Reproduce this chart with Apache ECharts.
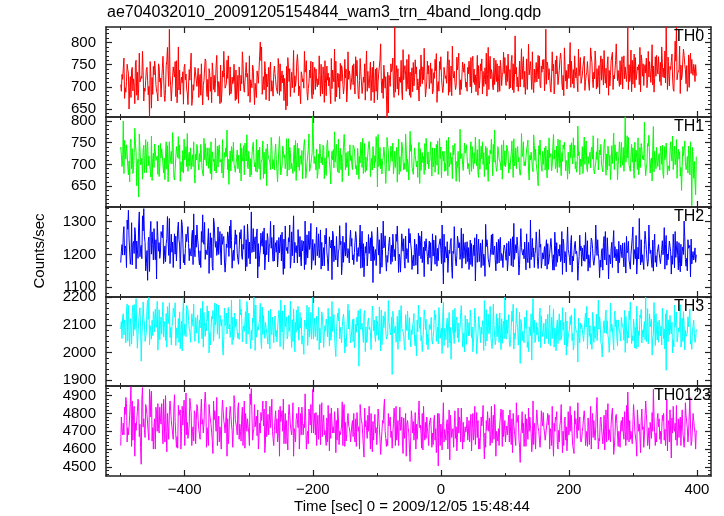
<!DOCTYPE html>
<html>
<head>
<meta charset="utf-8">
<script src="https://cdn.jsdelivr.net/npm/echarts@6/dist/echarts.min.js"></script>
<style>html,body{margin:0;padding:0;background:#fff;}#chart{width:724px;height:516px;}</style>
</head>
<body>
<div id="chart"></div>
<script>
// 1 s light curve (seconds from 2009/12/05 15:48:44), stored as four interleaved sample sets:
// A at -500,-496,...   C at -499,-495,...   B at -498,-494,...   D at -497,-493,...
const timeStart = -500;
const timeStep = 4;

const th0A = [
705,742,688,731,676,718,760,695,724,668,739,701,652,727,690,
746,713,681,758,830,697,722,664,738,709,751,686,715,672,744,
700,728,659,763,717,690,735,708,679,749,722,695,770,684,712,
738,663,726,701,755,689,717,742,676,709,790,693,729,668,714,
747,702,681,736,719,657,741,698,725,773,688,711,733,670,720,
756,694,718,679,745,707,731,662,722,758,699,713,684,740,717,
691,752,725,673,738,710,781,697,719,664,743,728,686,750,628,
714,739,835,695,722,671,748,706,733,689,761,718,701,745,677,
729,754,690,736,712,768,699,725,681,747,720,703,776,694,733,
711,758,686,740,724,697,763,716,679,745,731,705,752,690,727,
766,712,739,693,815,722,700,748,683,735,757,709,726,771,698,
740,830,716,688,751,729,704,762,680,737,719,758,697,743,725,
709,769,733,692,755,718,741,684,763,727,750,702,778,736,714,
759,695,745,835,722,706,766,738,689,752,731,780,710,747,724,
768,703,742,835,728,757,690,835,739,716,771,748,699,762,741
];
const th0C = [
690,765,712,650,738,703,681,776,719,697,744,630,721,758,685,
711,742,667,789,726,694,757,700,683,734,716,660,748,705,729,
742,681,703,758,670,722,694,747,712,665,780,707,728,690,751,
672,745,707,688,722,770,698,660,736,712,683,757,700,739,716,
730,685,752,709,693,766,678,724,701,746,662,718,741,696,758,
683,740,705,751,727,680,702,764,711,677,729,748,701,666,736,
722,699,760,714,685,752,690,728,744,706,671,762,718,697,733,
701,765,688,741,710,784,727,695,676,755,729,703,772,716,692,
748,708,732,775,690,721,744,708,761,680,735,767,700,727,752,
690,738,757,705,771,715,684,743,728,769,700,722,688,760,733,
715,774,698,752,729,690,741,768,712,796,725,687,755,718,747,
762,706,741,722,684,770,737,709,788,695,752,729,770,712,743,
726,692,757,740,716,781,699,752,730,708,768,725,694,759,737,
705,752,727,694,783,739,716,750,772,703,765,722,742,688,771,
736,790,720,758,702,774,745,716,792,727,751,690,763,735,712
];
const th0B = [
728,674,751,699,744,662,733,711,780,690,715,757,683,740,668,
720,769,694,736,703,745,678,790,712,661,729,704,776,692,730,
676,752,714,695,741,664,726,771,703,688,733,760,681,722,747,
693,718,779,684,730,665,749,708,724,801,687,735,712,756,679,
716,764,690,727,648,743,705,782,715,680,734,697,759,709,688,
731,713,770,702,665,747,721,696,785,709,673,739,762,690,726,
748,684,716,764,700,670,735,756,688,740,712,797,674,723,641,
752,697,728,681,760,716,690,773,724,702,745,668,734,787,711,
696,741,719,665,757,702,731,749,688,792,710,738,682,756,721,
744,700,769,727,681,752,735,706,789,718,693,760,712,741,778,
703,731,757,687,744,718,786,699,763,727,694,740,711,769,733,
691,756,725,779,702,738,761,693,748,722,800,707,734,689,766,
745,712,730,788,698,756,723,770,704,742,681,759,726,797,715,
733,770,712,750,689,774,728,705,760,741,698,757,795,719,743,
712,754,781,694,746,720,803,730,685,760,739,707,776,726,750
];
const th0D = [
717,698,739,723,691,754,670,708,737,715,682,729,746,705,752,
677,726,748,701,668,731,759,693,722,744,695,739,658,720,701,
716,695,740,678,731,754,688,715,662,736,697,719,745,707,669,
726,691,752,732,679,716,741,689,708,759,723,671,744,690,730,
698,741,719,669,746,712,733,687,756,702,727,780,689,738,673,
744,700,726,684,759,715,693,738,667,731,753,705,720,779,694,
705,768,680,735,722,743,707,669,758,690,731,715,749,681,726,
734,676,748,710,691,739,762,681,743,721,693,739,707,726,758,
715,684,762,704,739,687,719,780,712,733,694,756,716,744,699,
729,766,710,689,748,736,701,776,694,739,765,712,747,703,730,
748,695,771,722,700,758,717,735,694,742,779,710,738,703,761,
720,748,697,736,760,705,776,726,713,751,699,739,720,785,708,
759,727,706,770,733,695,748,715,782,698,737,762,718,750,701,
768,718,737,712,760,698,745,789,724,750,717,736,704,768,729,
755,722,709,767,739,695,758,728,749,785,707,772,730,751,725
];
const th1A = [
740,800,712,676,758,690,728,625,705,744,681,719,765,693,708,
672,736,714,689,752,701,664,727,745,683,710,771,696,722,657,
733,706,688,748,715,679,726,760,694,703,669,738,712,685,751,
699,721,662,743,708,730,676,715,757,690,705,728,651,719,741,
687,710,764,696,722,673,739,702,684,749,713,667,731,705,692,
812,709,680,725,744,691,716,655,734,703,758,688,711,727,674,
720,745,697,666,731,709,686,753,714,692,737,701,678,724,762,
693,707,730,659,718,741,689,712,776,698,721,670,736,704,687,
729,752,694,715,677,740,708,686,763,700,722,661,734,711,690,
745,706,684,727,697,758,713,672,738,701,719,779,693,710,666,
731,748,689,714,702,741,675,724,696,756,710,683,735,651,718,
700,742,688,725,769,697,713,674,736,709,691,750,716,682,729,
705,763,692,719,740,678,711,733,696,758,687,721,702,745,664,
727,698,810,715,684,738,706,761,693,720,674,742,709,787,690,
716,733,668,749,701,724,686,757,712,640,735,694,722,605,707
];
const th1C = [
722,679,745,708,690,727,651,770,714,681,735,702,663,747,719,
696,720,665,743,702,773,688,716,661,732,707,684,738,695,724,
702,746,673,715,691,752,706,680,737,712,692,718,654,741,700,
714,692,738,676,768,703,721,694,682,740,713,678,747,705,690,
728,660,717,742,690,710,726,679,755,694,720,707,668,735,701,
752,687,724,703,739,675,731,711,692,746,680,722,769,693,716,
699,736,676,718,693,748,704,732,687,720,648,739,709,693,742,
710,749,693,726,684,712,770,697,730,677,725,741,686,718,760,
690,720,707,746,699,669,730,755,694,716,738,707,660,725,749,
718,677,741,702,734,689,752,710,696,733,674,712,741,703,721,
694,727,710,670,738,706,690,752,716,684,728,768,702,743,697,
719,701,761,685,712,742,693,727,751,704,678,720,744,698,676,
741,700,683,728,712,694,760,722,683,710,742,665,735,718,701,
693,739,705,762,721,690,733,676,748,710,692,767,715,683,739,
725,700,741,714,685,708,742,668,729,697,754,718,676,739,660
];
const th1B = [
695,755,728,660,736,783,700,741,666,720,752,689,713,731,677,
748,699,725,660,718,739,692,764,706,680,741,716,689,752,710,
687,723,760,697,738,665,712,699,745,680,727,779,702,731,694,
733,680,715,749,696,671,740,704,728,665,754,697,722,688,711,
747,699,676,731,705,759,690,720,663,737,700,743,681,770,714,
702,735,690,717,667,742,706,730,775,696,724,660,738,701,745,
688,711,737,703,760,682,724,672,741,705,769,690,716,656,731,
742,678,720,758,701,687,733,664,745,709,694,751,712,677,740,
705,673,737,698,760,719,684,729,705,667,748,693,781,700,726,
690,732,711,763,679,716,700,742,661,724,746,698,732,687,755,
707,680,726,759,690,716,771,697,735,664,711,744,699,722,684,
738,669,715,698,733,681,756,707,722,666,745,701,690,788,712,
679,731,718,692,766,703,687,746,715,675,729,697,772,709,720,
751,684,723,699,746,668,713,690,735,797,703,716,662,730,708,
687,744,711,676,730,765,699,720,673,741,705,680,752,715,630
];
const th1D = [
708,736,695,750,679,744,712,699,733,757,697,671,726,709,744,
715,680,752,705,730,670,741,713,689,758,695,728,710,677,746,
725,690,711,738,700,729,685,742,705,757,716,688,731,707,682,
690,748,707,725,690,713,751,684,733,703,668,736,715,762,698,
712,737,689,716,759,687,703,744,716,686,732,757,704,684,727,
718,668,747,699,715,756,688,710,705,683,737,714,687,730,709,
744,690,713,751,679,717,745,701,722,764,695,712,740,700,685,
722,698,739,677,751,703,683,720,694,738,708,656,727,748,701,
711,738,682,754,713,730,702,674,727,744,697,730,713,686,735,
702,752,690,715,670,742,727,688,720,758,705,684,713,745,697,
744,703,754,697,725,683,718,706,743,721,692,709,675,756,730,
687,733,716,741,690,758,702,745,685,728,715,761,706,720,695,
718,754,702,735,686,729,715,700,749,724,696,743,688,729,752,
710,722,766,690,705,751,688,739,712,701,748,680,735,712,695,
742,679,723,697,752,688,714,735,693,720,688,742,705,668,718
];
const th2A = [
1175,1262,1218,1335,1190,1240,1156,1290,1228,1340,1172,1253,1201,1279,1125,
1236,1270,1195,1248,1310,1207,1263,1181,1229,1292,1168,1245,1218,1274,1193,
1250,1211,1321,1185,1238,1266,1152,1222,1284,1204,1247,1176,1258,1305,1213,
1231,1170,1276,1216,1245,1188,1330,1208,1259,1163,1234,1281,1199,1226,1252,
1180,1243,1205,1268,1157,1222,1290,1196,1237,1174,1255,1211,1302,1189,1228,
1246,1167,1214,1275,1198,1232,1150,1220,1261,1183,1208,1240,1176,1297,1203,
1225,1169,1251,1194,1216,1132,1238,1203,1270,1182,1210,1245,1161,1229,1197,
1253,1178,1215,1287,1190,1232,1158,1206,1264,1185,1221,1140,1243,1199,1212,
1170,1236,1195,1258,1181,1215,1110,1227,1189,1249,1203,1165,1220,1280,1188,
1207,1154,1233,1196,1262,1178,1214,1189,1245,1161,1200,1226,1172,1238,1195,
1219,1150,1208,1254,1183,1227,1166,1198,1240,1175,1305,1192,1213,1157,1231,
1186,1221,1170,1249,1199,1163,1216,1185,1232,1147,1204,1258,1179,1210,1193,
1164,1228,1186,1205,1243,1172,1197,1129,1218,1183,1251,1190,1160,1224,1201,
1176,1235,1194,1212,1155,1284,1187,1222,1168,1203,1246,1179,1213,1149,1196,
1230,1173,1209,1258,1184,1140,1219,1191,1236,1165,1302,1188,1214,1171,1197
];
const th2C = [
1210,1285,1160,1248,1297,1203,1241,1330,1187,1256,1212,1148,1269,1226,1301,
1188,1251,1226,1316,1172,1238,1201,1277,1156,1247,1218,1285,1204,1169,1259,
1229,1160,1246,1214,1279,1190,1311,1240,1200,1168,1255,1232,1194,1242,1181,
1260,1214,1195,1288,1163,1238,1206,1242,1278,1196,1225,1153,1264,1234,1210,
1221,1162,1233,1196,1287,1203,1158,1249,1214,1276,1191,1232,1169,1226,1295,
1182,1229,1263,1155,1221,1280,1195,1244,1178,1255,1217,1138,1237,1209,1174,
1249,1206,1178,1236,1271,1193,1165,1227,1248,1202,1283,1141,1215,1257,1176,
1205,1262,1181,1228,1146,1210,1256,1175,1232,1198,1167,1265,1187,1222,1248,
1215,1150,1244,1198,1227,1172,1262,1189,1213,1160,1285,1196,1236,1158,1220,
1239,1190,1163,1251,1176,1206,1245,1133,1227,1190,1263,1184,1213,1252,1160,
1200,1176,1248,1162,1230,1196,1279,1215,1153,1237,1184,1220,1269,1194,1158,
1207,1245,1183,1220,1152,1236,1195,1270,1174,1226,1190,1146,1231,1193,1259,
1220,1179,1242,1160,1219,1203,1245,1183,1152,1270,1207,1171,1235,1195,1143,
1229,1191,1143,1240,1201,1169,1258,1186,1245,1154,1215,1290,1180,1227,1163,
1204,1215,1282,1167,1241,1196,1159,1240,1173,1210,1253,1150,1228,1192,1220
];
const th2B = [
1230,1198,1305,1246,1168,1282,1215,1193,1318,1237,1121,1267,1230,1184,1255,
1205,1290,1178,1241,1220,1160,1256,1299,1214,1175,1262,1233,1195,1324,1222,
1188,1270,1231,1209,1142,1251,1296,1197,1235,1263,1180,1221,1287,1158,1242,
1202,1267,1185,1240,1293,1171,1225,1254,1128,1213,1270,1190,1248,1301,1179,
1236,1197,1260,1139,1223,1251,1182,1318,1205,1229,1165,1241,1198,1271,1154,
1219,1283,1190,1237,1165,1208,1254,1123,1226,1202,1288,1173,1231,1190,1247,
1183,1238,1206,1290,1160,1224,1195,1251,1114,1215,1237,1178,1302,1188,1209,
1170,1229,1262,1145,1201,1248,1187,1279,1213,1165,1231,1196,1271,1132,1218,
1241,1182,1207,1164,1230,1290,1176,1239,1203,1127,1218,1256,1185,1210,1237,
1178,1244,1196,1119,1212,1235,1166,1292,1186,1222,1199,1150,1246,1181,1213,
1182,1240,1166,1295,1205,1137,1221,1187,1263,1198,1211,1160,1232,1276,1178,
1224,1155,1203,1188,1268,1176,1230,1139,1209,1284,1168,1195,1240,1121,1212,
1195,1267,1149,1212,1182,1290,1203,1161,1236,1194,1125,1217,1273,1180,1240,
1210,1162,1255,1183,1226,1199,1140,1310,1176,1230,1187,1225,1160,1262,1205,
1188,1242,1155,1201,1225,1170,1270,1196,1147,1223,1185,1245,1131,1209,1176
];
const th2D = [
1198,1226,1277,1170,1232,1263,1188,1219,1272,1150,1240,1301,1183,1245,1210,
1270,1172,1233,1197,1262,1218,1180,1245,1306,1200,1239,1181,1256,1214,1290,
1168,1237,1298,1199,1227,1163,1249,1210,1270,1231,1146,1269,1219,1201,1275,
1185,1248,1231,1150,1252,1210,1279,1187,1233,1265,1201,1243,1177,1219,1290,
1207,1252,1180,1247,1212,1238,1269,1174,1227,1193,1243,1154,1260,1215,1186,
1233,1196,1218,1165,1259,1187,1227,1271,1199,1162,1230,1256,1195,1218,1274,
1199,1270,1221,1158,1233,1204,1261,1180,1224,1166,1198,1265,1220,1149,1236,
1228,1193,1240,1201,1263,1179,1218,1235,1154,1247,1211,1257,1175,1240,1194,
1190,1263,1170,1219,1248,1202,1224,1145,1237,1210,1178,1241,1202,1263,1172,
1221,1169,1228,1205,1247,1160,1201,1224,1175,1260,1211,1237,1174,1203,1229,
1234,1196,1215,1185,1253,1170,1207,1238,1190,1158,1249,1202,1179,1222,1205,
1165,1233,1209,1152,1227,1200,1178,1247,1191,1215,1237,1180,1202,1166,1226,
1181,1214,1199,1250,1167,1228,1183,1211,1255,1168,1199,1237,1190,1216,1175,
1190,1236,1205,1168,1252,1215,1183,1221,1199,1271,1164,1203,1244,1176,1217,
1172,1199,1230,1184,1208,1262,1191,1153,1231,1200,1164,1219,1247,1183,1199
];
const th3A = [
2085,2140,2035,2170,2098,2060,2195,2110,1968,2125,2072,2200,2048,2133,2091,
2155,2066,2112,2019,2180,2094,2128,2052,2147,2005,2103,2168,2077,2118,2040,
2136,2089,2186,2058,2114,2027,2152,2099,2071,2130,1990,2108,2163,2082,2045,
2121,2070,2157,2096,2031,2142,2080,2200,2055,2106,2013,2127,2088,2149,2064,
2100,2038,2135,2074,2172,2049,2093,2118,2002,2081,2145,2060,2110,2025,2087,
2200,2057,2103,2034,2126,2079,2160,2044,2097,1985,2114,2068,2139,2020,2085,
2051,2122,2073,1950,2098,2140,2036,2084,2012,2117,2062,2165,2028,2091,2047,
2105,1920,2069,2131,2040,2088,2008,2150,2056,2097,2023,2075,2128,2044,2083,
2010,2092,2058,2137,2031,2074,2181,2046,2099,1975,2063,2115,2037,2170,2071,
2029,2108,2052,2086,1995,2124,2066,2188,2041,2080,2014,2101,2057,2143,2033,
2200,2068,2021,2113,2049,2090,1960,2076,2134,2038,2061,2195,2045,2092,2017,
2079,2121,2032,2063,2158,2006,2088,2047,2110,1990,2072,2136,2026,2083,2054,
2101,2035,2167,2058,2011,2094,2043,2129,1983,2070,2115,2039,2085,2150,2024,
2066,2109,2000,2077,2183,2042,2090,2019,2125,2056,2200,2031,2088,2064,2140,
2037,2095,2050,1935,2118,2067,2021,2147,2074,2033,2102,2058,2126,2011,2069
];
const th3C = [
2112,2063,2148,2091,2030,2174,2088,2139,2057,2103,2162,2028,2117,2075,2185,
2046,2127,2090,2166,2054,2109,2180,2073,2013,2134,2098,2154,2037,2095,2127,
2072,2160,2019,2105,2150,2082,2041,2115,2172,2096,2057,2143,2085,2190,2060,
2102,2047,2123,2076,2185,2097,2044,2139,2070,2118,2165,2051,2099,2013,2128,
2132,2080,2021,2151,2093,2059,2186,2040,2110,2167,2088,2035,2124,2072,2145,
2048,2102,2163,2083,2018,2121,2089,2055,2137,2076,2160,2035,2103,2071,2154,
2086,2017,2128,2063,2106,2152,2044,2092,2168,2057,2113,2082,2030,2148,2065,
2072,2149,2096,2011,2124,2075,2137,2090,2020,2112,2063,2171,2042,2089,2120,
2054,2127,2079,2040,2163,2088,2025,2103,2145,2064,2032,2128,2075,2101,2002,
2121,2061,2092,2160,2038,2081,2115,2049,2093,2167,2053,2028,2125,2071,2094,
2066,2101,2047,2175,2085,2026,2119,2060,2087,2003,2140,2072,2108,2039,2133,
2106,2050,2088,2127,2019,2098,2140,2061,2027,2114,2083,2043,2159,2070,2035,
2083,2119,2012,2097,2145,2051,2077,2105,2040,2131,2062,2178,2048,2093,2118,
2041,2086,2130,2052,2097,2121,2013,2078,2156,2089,2039,2066,2121,2181,2074,
2117,2027,2085,2154,2063,2110,2172,2038,2093,2124,2009,2070,2157,2080,2036
];
const th3B = [
2050,2118,2176,2022,2147,2083,2015,2162,2106,2040,2189,2097,2061,2157,2008,
2102,2182,2043,2135,2090,2160,2025,2123,2079,2198,2057,2116,2084,2175,2069,
2033,2111,2145,2078,1998,2131,2087,2176,2050,2119,2161,2067,2103,2028,2143,
2074,2193,2038,2112,2161,2053,2125,2007,2094,2178,2065,2109,2030,2156,2092,
2058,2121,2190,2011,2099,2134,2067,2158,2073,2044,2126,1993,2085,2164,2048,
2092,2131,2010,2147,2070,2101,2023,2185,2065,2118,2049,2093,1998,2124,2076,
2119,2040,2096,2158,2069,2003,2112,2071,2145,2039,2090,2005,2133,2077,2188,
2063,2118,2037,2095,2170,2059,2104,2046,2082,2141,1988,2109,2061,2154,2028,
2101,2045,2153,2068,2118,1996,2087,2124,2034,2079,2160,2052,2091,2019,2134,
2087,2154,2002,2121,2067,2035,2097,2023,2139,2062,2175,2046,2085,2010,2113,
2048,2137,2090,2012,2160,2071,2104,2035,2152,2093,1972,2117,2063,2140,2082,
2031,2097,2171,2050,2089,2118,2043,2162,2075,2022,2130,2068,2098,1965,2107,
2060,2143,2082,2029,2122,2066,2190,2035,2099,2154,2046,2076,2009,2118,2091,
2127,2044,2085,2150,2032,2098,2168,2061,2034,2112,2073,2140,1990,2104,2045,
2098,2160,2012,2079,2134,1998,2091,2055,2173,2040,2081,2129,2030,2095,2050
];
const th3D = [
2130,2090,2041,2122,2171,2108,2062,2095,2183,2036,2120,2079,2148,2100,2063,
2128,2056,2141,2105,2027,2150,2089,2036,2113,2061,2170,2086,2140,2050,2106,
2118,2049,2093,2169,2073,2121,2179,2066,2135,2024,2097,2116,2054,2127,2091,
2051,2136,2087,2148,2066,2013,2109,2172,2081,2043,2134,2092,2151,2077,2035,
2080,2152,2106,2058,2129,2076,2018,2096,2154,2082,2030,2117,2171,2056,2101,
2125,2043,2089,2133,2097,2056,2130,2076,2014,2143,2091,2123,2050,2175,2034,
2039,2102,2152,2084,2036,2093,2125,2010,2078,2131,2044,2154,2089,2048,2112,
2129,2070,2048,2154,2086,2022,2079,2126,2065,2039,2117,2087,2003,2131,2067,
2082,2030,2118,2092,2051,2136,2069,2017,2090,2154,2073,2107,2144,2049,2085,
2060,2125,2037,2073,2130,2092,2007,2155,2068,2032,2101,2140,2036,2122,2050,
2118,2037,2150,2069,2105,2145,2042,2128,2018,2080,2115,2036,2091,2161,2058,
2056,2138,2024,2110,2072,2032,2116,2082,2146,2056,2101,2009,2080,2124,2087,
2040,2092,2125,2068,2036,2139,2084,2027,2115,2068,2000,2103,2137,2051,2079,
2103,2152,2033,2119,2060,2016,2102,2135,2080,2046,2159,2093,2052,2025,2111,
2060,2108,2140,2039,2080,2046,2113,2089,2019,2148,2058,2093,2044,2117,2084
];
const th0123A = [
4620,4745,4890,4680,4950,4790,4705,4860,4515,4770,4830,4650,4925,4735,4800,
4690,4855,4760,4585,4810,4725,4905,4670,4780,4840,4620,4750,4885,4700,4795,
4830,4655,4765,4920,4710,4790,4575,4820,4740,4690,4870,4755,4630,4800,4720,
4775,4860,4645,4735,4805,4690,4940,4715,4785,4600,4760,4825,4670,4745,4880,
4705,4770,4560,4815,4730,4665,4850,4745,4690,4795,4610,4760,4910,4700,4735,
4935,4680,4790,4625,4750,4705,4845,4660,4725,4580,4775,4700,4820,4645,4735,
4690,4800,4615,4725,4760,4555,4705,4840,4670,4740,4625,4785,4700,4880,4655,
4720,4605,4770,4690,4835,4640,4710,4760,4530,4690,4805,4665,4735,4595,4750,
4680,4775,4625,4715,4505,4740,4860,4650,4705,4780,4610,4725,4690,4830,4640,
4715,4760,4590,4695,4805,4660,4730,4545,4705,4775,4635,4850,4690,4735,4615,
4760,4680,4820,4580,4710,4745,4525,4690,4795,4655,4730,4870,4600,4720,4685,
4805,4640,4735,4690,4560,4765,4705,4850,4620,4725,4680,4790,4575,4710,4745,
4660,4815,4700,4625,4740,4690,4890,4645,4720,4595,4765,4705,4830,4670,4735,
4610,4780,4700,4920,4655,4740,4690,4815,4580,4725,4870,4660,4745,4935,4690,
4725,4630,4800,4695,4760,4550,4715,4845,4665,4740,4610,4785,4700,4645,4720
];
const th0123C = [
4780,4680,4855,4725,4615,4840,4760,4670,4880,4710,4795,4935,4645,4770,4700,
4835,4715,4640,4800,4870,4690,4755,4605,4820,4735,4780,4660,4845,4725,4630,
4760,4805,4690,4845,4620,4740,4870,4700,4785,4600,4760,4835,4680,4740,4900,
4720,4655,4780,4870,4700,4620,4790,4850,4675,4745,4810,4580,4730,4840,4700,
4770,4640,4840,4700,4800,4595,4735,4860,4640,4720,4800,4680,4760,4630,4850,
4690,4805,4655,4740,4790,4620,4720,4830,4690,4760,4625,4735,4850,4680,4720,
4735,4670,4805,4600,4740,4830,4660,4715,4585,4795,4710,4655,4760,4700,4620,
4780,4690,4620,4760,4705,4575,4800,4720,4670,4755,4600,4790,4690,4840,4660,
4620,4710,4760,4580,4800,4690,4640,4745,4820,4665,4735,4590,4780,4705,4650,
4780,4640,4715,4840,4665,4600,4770,4690,4810,4620,4720,4765,4645,4730,4820,
4640,4735,4690,4800,4620,4790,4680,4745,4615,4830,4690,4625,4760,4700,4815,
4720,4660,4790,4620,4745,4810,4640,4705,4760,4590,4730,4690,4815,4660,4780,
4700,4760,4615,4735,4800,4650,4710,4765,4630,4700,4855,4640,4720,4780,4615,
4740,4690,4620,4780,4700,4850,4640,4700,4760,4610,4800,4720,4660,4780,4640,
4770,4705,4650,4880,4640,4775,4700,4620,4735,4820,4675,4720,4890,4650,4690
];
const th0123B = [
4700,4835,4640,4790,4870,4560,4810,4740,4945,4665,4790,4880,4720,4600,4855,
4770,4630,4900,4725,4820,4655,4765,4845,4600,4730,4915,4690,4805,4645,4760,
4710,4880,4740,4610,4850,4695,4765,4890,4640,4810,4735,4560,4790,4705,4855,
4680,4740,4835,4605,4770,4910,4650,4725,4820,4690,4870,4625,4795,4720,4660,
4815,4685,4755,4880,4630,4790,4705,4560,4765,4835,4680,4740,4600,4825,4690,
4750,4620,4725,4860,4680,4775,4590,4740,4810,4650,4700,4865,4615,4760,4695,
4760,4640,4735,4850,4680,4725,4790,4600,4755,4690,4825,4570,4745,4660,4800,
4665,4745,4840,4620,4720,4775,4560,4690,4815,4650,4740,4870,4605,4700,4780,
4735,4610,4790,4670,4745,4595,4710,4765,4540,4700,4815,4665,4760,4600,4725,
4650,4730,4800,4625,4760,4690,4845,4610,4740,4680,4790,4560,4715,4825,4670,
4700,4790,4625,4735,4860,4660,4720,4615,4770,4700,4585,4745,4820,4650,4760,
4690,4755,4600,4840,4700,4625,4735,4580,4780,4665,4840,4620,4740,4860,4655,
4730,4620,4775,4840,4665,4725,4600,4780,4690,4820,4650,4740,4570,4795,4700,
4760,4655,4845,4640,4705,4790,4560,4740,4825,4675,4730,4600,4805,4690,4770,
4655,4790,4710,4590,4820,4690,4745,4610,4780,4700,4860,4640,4735,4800,4600
];
const th0123D = [
4680,4795,4720,4865,4650,4745,4880,4610,4725,4850,4690,4780,4600,4835,4715,
4740,4880,4700,4655,4760,4830,4610,4790,4700,4875,4680,4740,4620,4815,4850,
4680,4740,4860,4720,4795,4650,4815,4620,4725,4875,4690,4770,4840,4610,4765,
4830,4700,4620,4800,4725,4850,4690,4760,4600,4805,4730,4870,4680,4775,4620,
4690,4820,4745,4630,4760,4850,4680,4715,4800,4600,4835,4720,4670,4790,4700,
4800,4735,4850,4670,4705,4640,4800,4690,4760,4830,4680,4620,4750,4800,4640,
4670,4770,4700,4790,4615,4760,4700,4800,4650,4720,4780,4640,4830,4615,4730,
4700,4830,4650,4725,4780,4660,4740,4600,4770,4700,4655,4720,4800,4650,4720,
4760,4690,4650,4800,4620,4755,4700,4600,4790,4715,4660,4830,4640,4750,4695,
4690,4795,4650,4720,4600,4780,4660,4760,4700,4840,4655,4700,4620,4790,4705,
4730,4640,4770,4700,4750,4610,4810,4660,4720,4780,4640,4700,4750,4610,4730,
4650,4800,4715,4660,4780,4600,4760,4700,4650,4810,4700,4600,4770,4705,4640,
4780,4660,4725,4600,4760,4830,4660,4720,4790,4640,4710,4800,4610,4745,4690,
4700,4810,4650,4760,4630,4700,4820,4670,4710,4790,4620,4750,4700,4620,4800,
4700,4760,4620,4730,4690,4840,4650,4770,4620,4705,4790,4690,4620,4760,4705
];

const bandNames = ['TH0','TH1','TH2','TH3','TH0123'];
const xMajorTicks = [-400,-200,0,200,400];
const xMinorTicks = [-500,-300,-100,100,300];
const yMajorTicks = [[650,700,750,800],[650,700,750,800],[1100,1200,1300],[1900,2000,2100,2200],[4500,4600,4700,4800,4900]];
const yRanges = [[632,835],[602,809],[1070,1345],[1878,2201],[4449,4954]];
const yMinorSteps = [10,10,20,20,20];

// sample sets per band, in time order within each 4 s block (offsets 0,1,2,3 s)
const bandSets = [
  [th0A, th0C, th0B, th0D],
  [th1A, th1C, th1B, th1D],
  [th2A, th2C, th2B, th2D],
  [th3A, th3C, th3B, th3D],
  [th0123A, th0123C, th0123B, th0123D]
];
const colors = ['#ff0000','#00ff00','#0000ff','#00ffff','#ff00ff'];
const tops = [27,117,207,297,386];
const heights = [90,90,90,89,90];

function merged(sets) {
  const out = [];
  const sub = timeStep / sets.length;
  for (let i = 0; i < sets[0].length; i++) {
    sets.forEach((arr, j) => out.push([timeStart + i * timeStep + j * sub, arr[i]]));
  }
  return out;
}

const FONT = 'Liberation Sans, Arial, Helvetica, sans-serif';
const frame = {color:'#222', width:1.5};
const grids = [], xAxes = [], yAxes = [], series = [];

function minorList(k) {
  const out = [];
  const step = yMinorSteps[k];
  const [lo, hi] = yRanges[k];
  for (let v = Math.ceil(lo/step)*step; v <= hi; v += step) {
    if (yMajorTicks[k].indexOf(v) < 0) out.push(v);
  }
  return out;
}

for (let k = 0; k < 5; k++) {
  grids.push({left:106, right:13, top:tops[k], height:heights[k]});
  const xBase = {gridIndex:k, type:'value', min:-523, max:422, splitLine:{show:false}};
  ['bottom','top'].forEach(pos => {
    xAxes.push(Object.assign({}, xBase, {
      position:pos,
      axisLine:{show:true, onZero:false, lineStyle:frame},
      axisTick:{show:true, inside:true, length:6, customValues:xMajorTicks, lineStyle:{color:'#222', width:1.2}},
      axisLabel:{show:(k===4 && pos==='bottom'), customValues:xMajorTicks, fontSize:15, fontFamily:FONT, color:'#000', margin:6,
        formatter: v => v < 0 ? '\u2212' + Math.abs(v) : String(v)}
    }));
    xAxes.push(Object.assign({}, xBase, {
      position:pos,
      axisLine:{show:false, onZero:false},
      axisTick:{show:true, inside:true, length:3, customValues:xMinorTicks, lineStyle:{color:'#222', width:1}},
      axisLabel:{show:false}
    }));
  });
  const yBase = {gridIndex:k, type:'value', min:yRanges[k][0], max:yRanges[k][1], splitLine:{show:false}};
  ['left','right'].forEach(pos => {
    yAxes.push(Object.assign({}, yBase, {
      position:pos,
      axisLine:{show:true, onZero:false, lineStyle:frame},
      axisTick:{show:true, inside:true, length:6, customValues:yMajorTicks[k], lineStyle:{color:'#222', width:1.2}},
      axisLabel:{show:pos==='left', customValues:yMajorTicks[k], fontSize:15, fontFamily:FONT, color:'#000', margin:10,
        formatter: v => String(v)}
    }));
    yAxes.push(Object.assign({}, yBase, {
      position:pos,
      axisLine:{show:false, onZero:false},
      axisTick:{show:true, inside:true, length:3, customValues:minorList(k), lineStyle:{color:'#222', width:1}},
      axisLabel:{show:false}
    }));
  });
  series.push({
    type:'line', xAxisIndex:4*k, yAxisIndex:4*k,
    data: merged(bandSets[k]),
    showSymbol:false, symbol:'none', sampling:null,
    lineStyle:{color:colors[k], width:1}, animation:false, silent:true
  });
}

const graphics = [
  {type:'text', left:107, top:5, style:{text:'ae704032010_20091205154844_wam3_trn_4band_long.qdp', font:'16px ' + FONT, fill:'#000'}},
  {type:'text', x:40, y:251, rotation:Math.PI/2, style:{text:'Counts/sec', font:'15px ' + FONT, fill:'#000', textAlign:'center', textVerticalAlign:'middle'}},
  {type:'text', x:412, y:507, style:{text:'Time [sec] 0 = 2009/12/05 15:48:44', font:'15px ' + FONT, fill:'#000', textAlign:'center', textVerticalAlign:'middle'}}
];
bandNames.forEach((n, k) => {
  graphics.push({type:'text', x:(k===4 ? 654 : 674), y:tops[k] + 2, z:100,
    style:{text:n, font:'16px ' + FONT, fill:'#000', textVerticalAlign:'top'}});
});

const chart = echarts.init(document.getElementById('chart'), null, {renderer:'canvas'});
chart.setOption({
  animation:false,
  backgroundColor:'#fff',
  grid:grids, xAxis:xAxes, yAxis:yAxes, series:series,
  graphic:graphics
});
</script>
</body>
</html>
